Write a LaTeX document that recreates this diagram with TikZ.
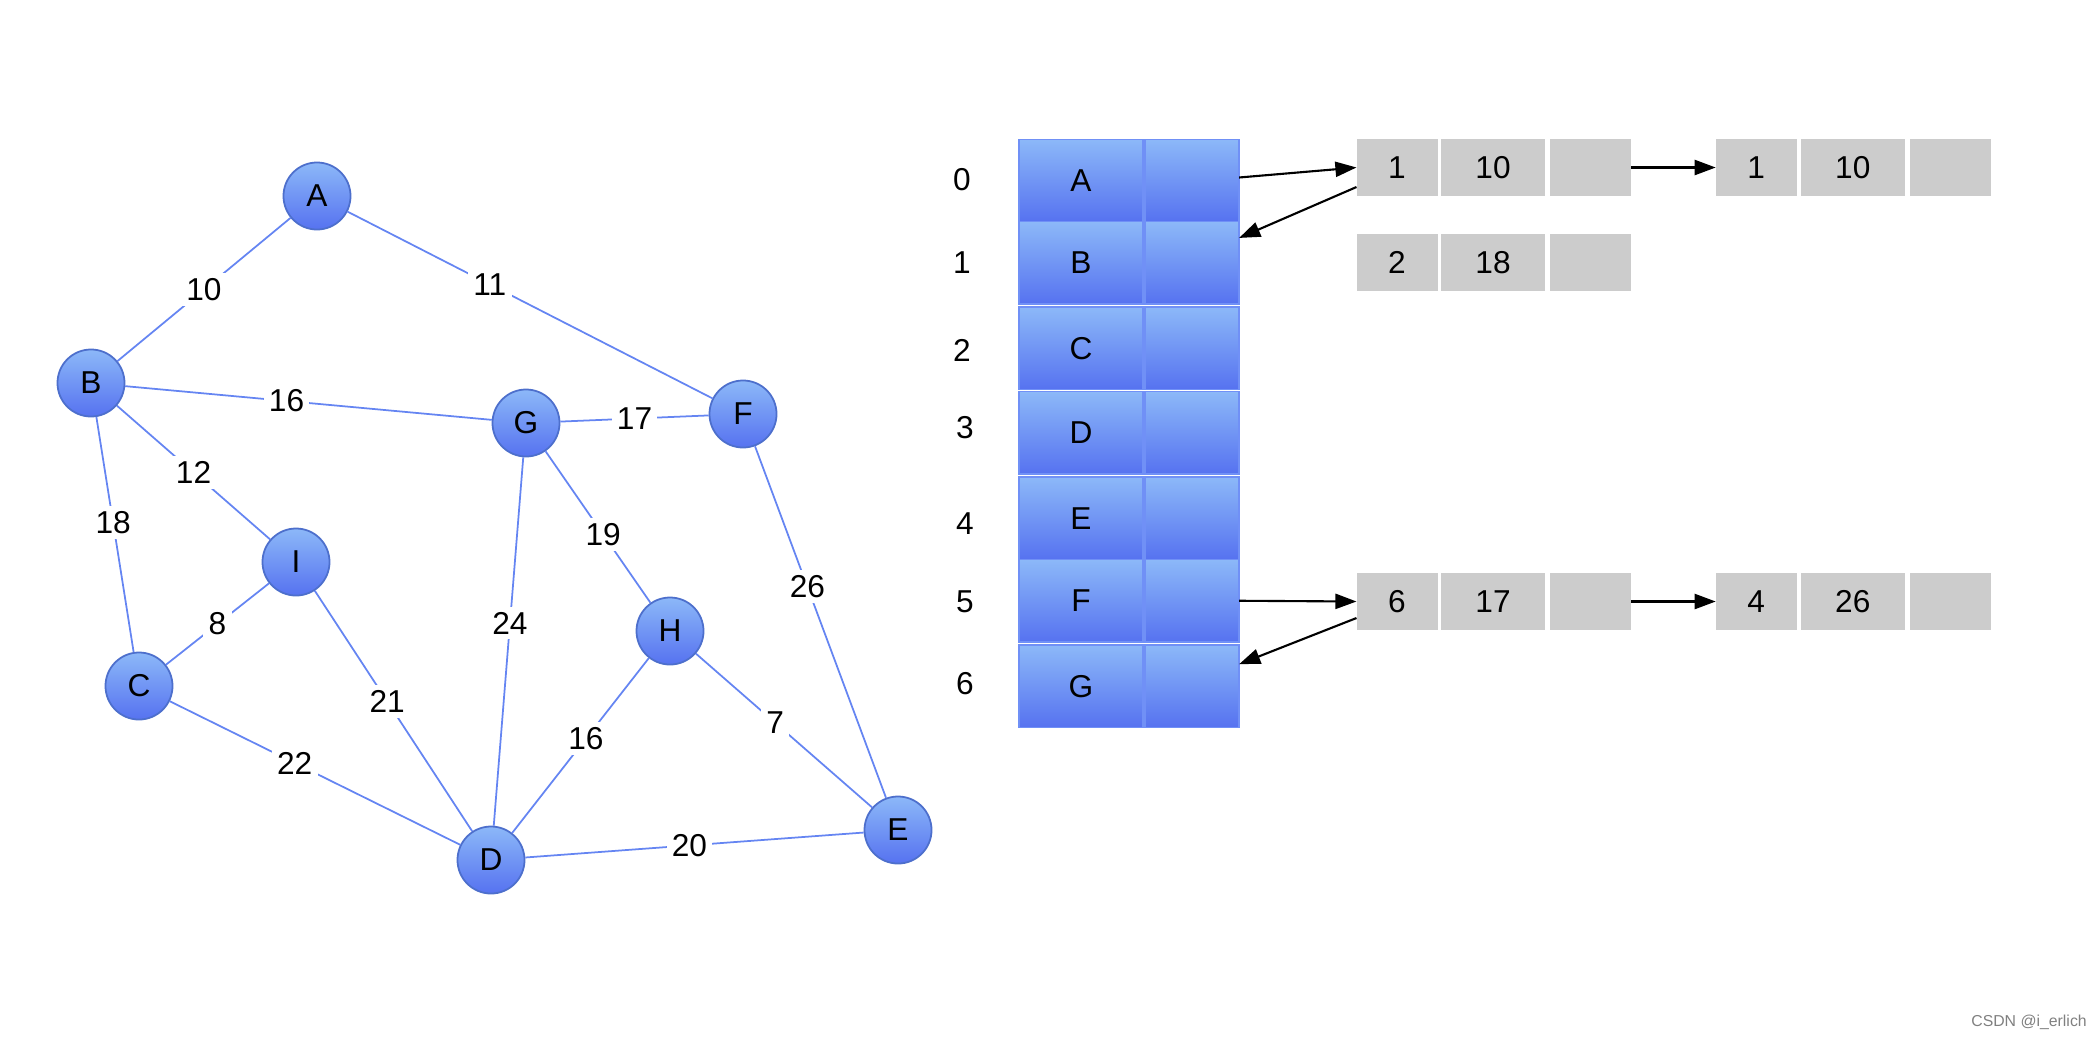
\documentclass[tikz,border=0pt]{standalone}
\usepackage{fontspec}
\setmainfont{Liberation Sans}
\usepackage{xcolor}
\usetikzlibrary{positioning, arrows.meta}

\definecolor{nodetop}{HTML}{8CB8F8}
\definecolor{nodebottom}{HTML}{5672F0}
\definecolor{nodeborder}{HTML}{4D6FCC}
\definecolor{edgeblue}{HTML}{6585F2}
\definecolor{celledge}{HTML}{7090F6}
\definecolor{listgray}{HTML}{CCCCCC}

\begin{document}
\begin{tikzpicture}[x=0.01cm,y=-0.01cm,font=\fontsize{9}{11}\selectfont]
			\tikzstyle{vertex}=[draw=nodeborder,circle,line width=0.5pt,minimum size=0.67cm,inner sep=0pt,top color=nodetop,bottom color=nodebottom]
			\tikzstyle{weight}=[fill=white,inner sep=1.5pt]
			\tikzstyle{every edge}=[draw=edgeblue,line width=0.5pt]
			\tikzstyle{vcell}=[draw=celledge,line width=0.4pt,top color=nodetop,bottom color=nodebottom,inner sep=0pt,outer sep=0pt,minimum width=1.24cm,minimum height=0.824cm]
			\tikzstyle{pcell}=[vcell,minimum width=0.94cm]
			\tikzstyle{item}=[fill=listgray,inner sep=0pt,outer sep=0pt,minimum width=0.81cm,minimum height=0.57cm]
			\tikzstyle{wide}=[item,minimum width=1.04cm]
			\tikzstyle{link}=[-{Triangle[length=6pt,width=4.3pt]},line width=0.6pt]
			
			\useasboundingbox (0,0) rectangle (2092,1042);
			
			% graph
			\node[vertex] (A) at (317,196) {A};
			\node[vertex] (B) at (91,383) {B};
			\node[vertex] (G) at (526,423) {G};
			\node[vertex] (F) at (743,414) {F};
			\node[vertex] (I) at (296,562) {I};
			\node[vertex] (C) at (139,686) {C};
			\node[vertex] (H) at (670,631) {H};
			\node[vertex] (D) at (491,860) {D};
			\node[vertex] (E) at (898,830) {E};
			
			\path (A) edge node[weight] {10} (B)
			(A) edge node[weight,pos=0.39] {11} (F)
			(B) edge node[weight,pos=0.44] {16} (G)
			(G) edge node[weight] {17} (F)
			(B) edge node[weight] {12} (I)
			(B) edge node[weight,pos=0.45] {18} (C)
			(G) edge node[weight,pos=0.55] {19} (H)
			(G) edge node[weight,pos=0.45] {24} (D)
			(F) edge node[weight,pos=0.4] {26} (E)
			(I) edge node[weight] {8} (C)
			(I) edge node[weight,pos=0.46] {21} (D)
			(H) edge node[weight,pos=0.46] {16} (D)
			(H) edge node[weight,pos=0.45] {7} (E)
			(C) edge node[weight,pos=0.43] {22} (D)
			(D) edge node[weight,pos=0.485] {20} (E);
			
			% vertex table
			\node[vcell] (vA) at (1081,180.5) {A};
			\node[pcell] (pA) [right=0.02cm of vA] {};
			\node[vcell] (vB) [below=0pt of vA] {B};
			\node[pcell] (pB) [right=0.02cm of vB] {};
			\node[vcell] (vC) [below=0.03cm of vB] {C};
			\node[pcell] (pC) [right=0.02cm of vC] {};
			\node[vcell] (vD) [below=0.02cm of vC] {D};
			\node[pcell] (pD) [right=0.02cm of vD] {};
			\node[vcell] (vE) [below=0.03cm of vD] {E};
			\node[pcell] (pE) [right=0.02cm of vE] {};
			\node[vcell] (vF) [below=0pt of vE] {F};
			\node[pcell] (pF) [right=0.02cm of vF] {};
			\node[vcell] (vG) [below=0.03cm of vF] {G};
			\node[pcell] (pG) [right=0.02cm of vG] {};
			
			\node (i0) at (962,180) {0};
			\node (i1) at (962,263) {1};
			\node (i2) at (962,350) {2};
			\node (i3) at (965,428) {3};
			\node (i4) at (965,524) {4};
			\node (i5) at (965,602) {5};
			\node (i6) at (965,684) {6};
			
			% edge lists
			\node[item] (ax1) at (1397,167.5) {1};
			\node[wide] (ax2) [right=0.035cm of ax1] {10};
			\node[item] (ax3) [right=0.05cm of ax2] {};
			\node[item] (ay1) [right=0.845cm of ax3] {1};
			\node[wide] (ay2) [right=0.04cm of ay1] {10};
			\node[item] (ay3) [right=0.055cm of ay2] {};
			
			\node[item] (bx1) [below=0.38cm of ax1] {2};
			\node[wide] (bx2) [right=0.035cm of bx1] {18};
			\node[item] (bx3) [right=0.05cm of bx2] {};
			
			\node[item] (fx1) at (1397,601.5) {6};
			\node[wide] (fx2) [right=0.035cm of fx1] {17};
			\node[item] (fx3) [right=0.05cm of fx2] {};
			\node[item] (fy1) [right=0.845cm of fx3] {4};
			\node[wide] (fy2) [right=0.04cm of fy1] {26};
			\node[item] (fy3) [right=0.055cm of fy2] {};
			
			\draw[link] ([yshift=0.03cm]pA.east) -- (ax1.west);
			\draw[link] ([yshift=0.09cm]ax1.south west) -- ([yshift=0.25cm]pB.east);
			\draw[link] (ax3.east) -- (ay1.west);
			\draw[link] (pF.east) -- (fx1.west);
			\draw[link] ([yshift=0.12cm]fx1.south west) -- ([yshift=0.22cm]pG.east);
			\draw[link] (fx3.east) -- (fy1.west);
			
			\node[text=gray,font=\fontsize{4.5}{5}\selectfont] (mark) at (2029,1022) {CSDN @i\_erlich};
		\end{tikzpicture}
\end{document}
